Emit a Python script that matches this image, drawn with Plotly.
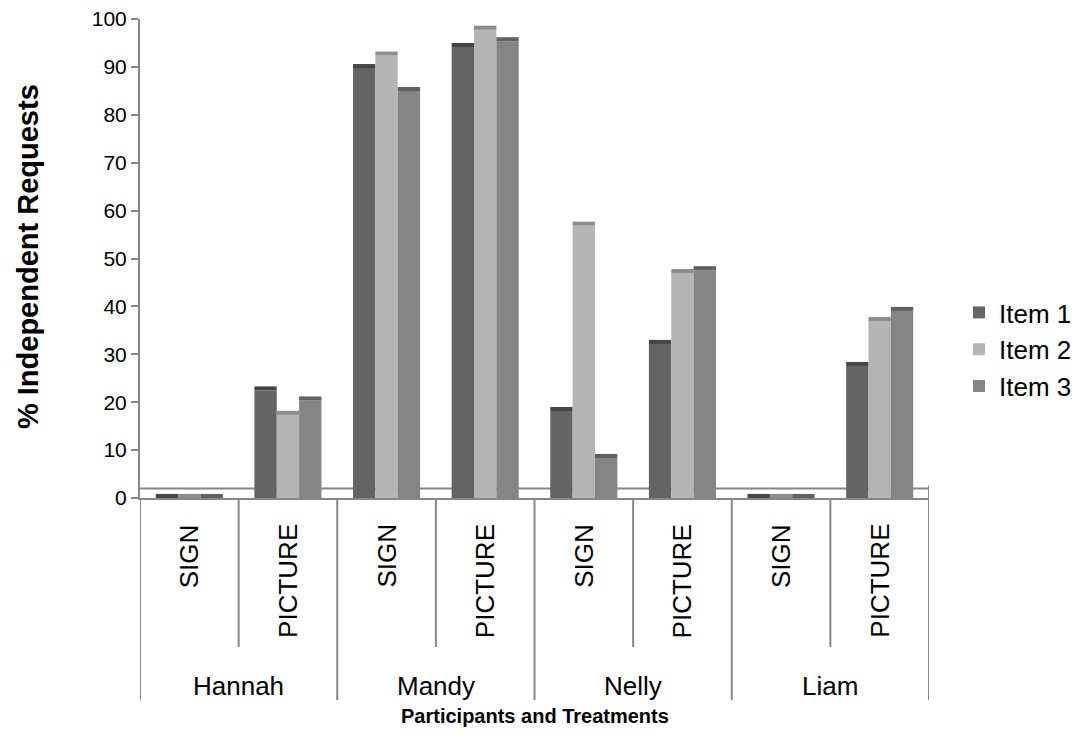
import plotly.graph_objects as go

participants = ["Hannah", "Mandy", "Nelly", "Liam"]
treatments = ["SIGN", "PICTURE"]
categories = [f"{p} {t}" for p in participants for t in treatments]
item_names = ["Item 1", "Item 2", "Item 3"]
item1 = [0, 23.3, 90.6, 95.0, 19.0, 33.0, 0, 28.4]
item2 = [0, 18.2, 93.2, 98.6, 57.7, 47.8, 0, 37.8]
item3 = [0, 21.2, 85.8, 96.2, 9.2, 48.4, 0, 39.9]
series = [item1, item2, item3]
y_ticks = list(range(0, 101, 10))

face_colors = ["#646464", "#b5b5b5", "#858585"]
cap_colors = ["#464646", "#8e8e8e", "#616161"]
CAP = 0.85
FONT = "Liberation Sans, Arial, sans-serif"

fig = go.Figure()
for i, (name, vals) in enumerate(zip(item_names, series)):
    body = [max(v - CAP, 0) for v in vals]
    fig.add_trace(go.Bar(
        x=categories, y=body, name=name, offsetgroup=str(i),
        marker=dict(color=face_colors[i], line=dict(width=0)),
        legendgroup=name, showlegend=True,
    ))
    fig.add_trace(go.Bar(
        x=categories, y=[max(v, CAP) - b for v, b in zip(vals, body)], base=body,
        offsetgroup=str(i), marker=dict(color=cap_colors[i], line=dict(width=0)),
        legendgroup=name, showlegend=False, hoverinfo="skip",
    ))

shapes = []
axis_col = "#868686"
shapes.append(dict(type="line", xref="x", yref="y", x0=-0.5, x1=7.5, y0=2, y1=2,
                   line=dict(color=axis_col, width=2), layer="below"))
shapes.append(dict(type="line", xref="x", yref="y", x0=7.5, x1=7.5, y0=0, y1=2.6,
                   line=dict(color=axis_col, width=2)))
shapes.append(dict(type="line", xref="x", yref="paper", x0=-0.5, x1=-0.5, y0=0, y1=-0.025,
                   line=dict(color=axis_col, width=2)))
n = len(categories)
for k in range(n + 1):
    xpos = k - 0.5
    bottom = -0.422 if k % 2 == 0 else -0.311
    shapes.append(dict(type="line", xref="x", yref="paper", x0=xpos, x1=xpos, y0=0, y1=bottom,
                       line=dict(color=axis_col, width=2)))

annotations = []
for k, c in enumerate(categories):
    t = c.split(" ")[1]
    annotations.append(dict(x=k, y=-0.05, xref="x", yref="paper", text=t, textangle=-90,
                            showarrow=False, xanchor="center", yanchor="top",
                            font=dict(family=FONT, size=26, color="#000")))
for j, p in enumerate(participants):
    annotations.append(dict(x=2 * j + 0.5, y=-0.3925, xref="x", yref="paper", text=p,
                            showarrow=False, xanchor="center", yanchor="middle",
                            font=dict(family=FONT, size=26, color="#000")))
annotations.append(dict(x=0.5, y=-0.455, xref="paper", yref="paper",
                        text="<b>Participants and Treatments</b>", showarrow=False,
                        xanchor="center", yanchor="middle",
                        font=dict(family=FONT, size=20, color="#000")))
annotations.append(dict(x=-0.142, y=0.505, xref="paper", yref="paper",
                        text="<b>% Independent Requests</b>", textangle=-90, showarrow=False,
                        xanchor="center", yanchor="middle",
                        font=dict(family=FONT, size=29, color="#000")))

fig.update_layout(
    width=1073, height=738,
    margin=dict(l=132, r=152, t=11, b=248, autoexpand=False),
    paper_bgcolor="white", plot_bgcolor="white",
    barmode="group", bargap=0.32, bargroupgap=0,
    showlegend=True,
    legend=dict(x=1.038, y=0.31, xanchor="left", yanchor="middle",
                font=dict(family=FONT, size=26, color="#000"), tracegroupgap=0,
                itemwidth=30),
    xaxis=dict(range=[-0.5, 7.5], showticklabels=False, ticks="", showgrid=False,
               showline=True, linecolor=axis_col, linewidth=2, zeroline=False,
               automargin=False,
               categoryorder="array", categoryarray=categories),
    yaxis=dict(range=[0, 100], tickvals=y_ticks, ticks="outside", ticklen=7,
               tickcolor=axis_col, tickwidth=2, showgrid=False, zeroline=False,
               showline=True, linecolor=axis_col, linewidth=2,
               ticklabeloverflow="allow", automargin=False,
               tickfont=dict(family=FONT, size=21, color="#000")),
    shapes=shapes, annotations=annotations,
    font=dict(family=FONT, size=21, color="#000"),
)
fig.write_html("out.html")
